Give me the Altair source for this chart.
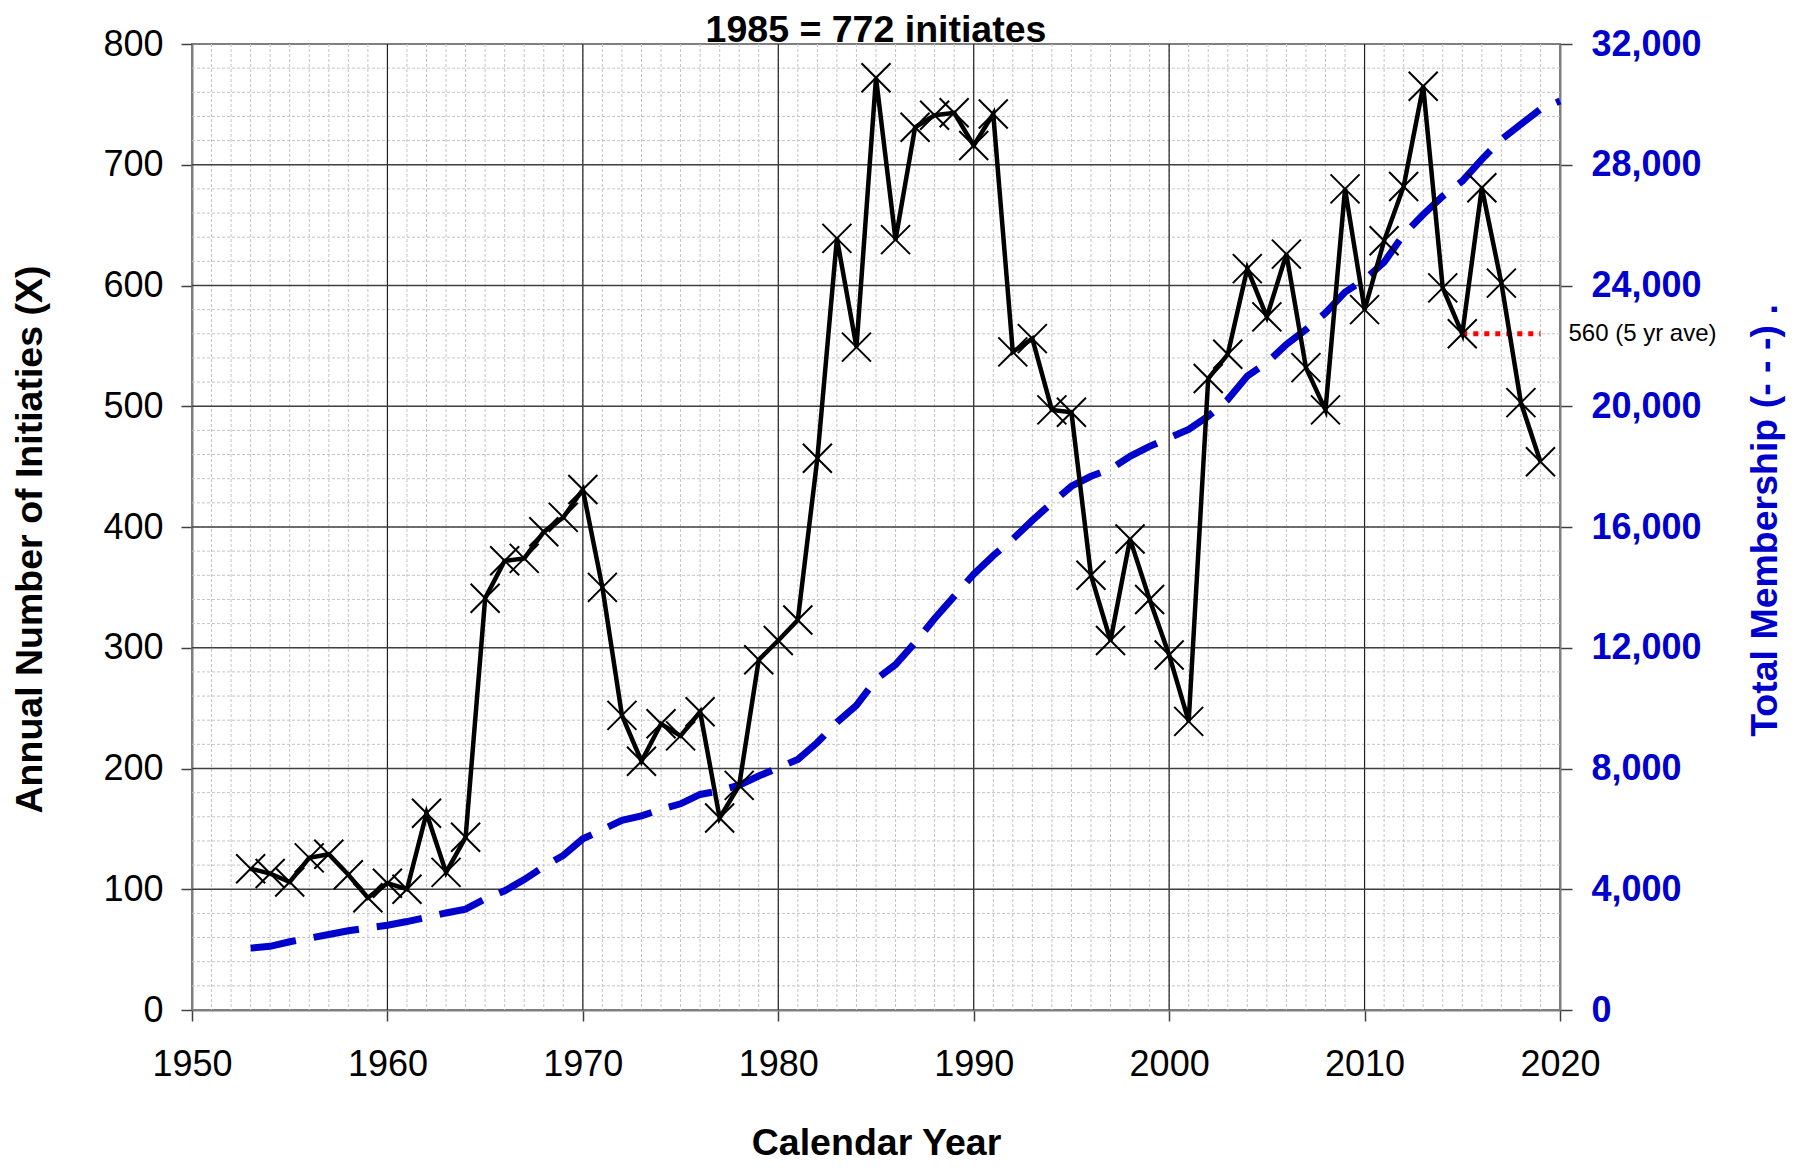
import altair as alt
import pandas as pd

# ---------------- data ----------------
init_years = list(range(1953, 2020))
initiates = [117, 113, 106, 126, 129, 112, 93, 105, 100, 163,
             114, 143, 341, 372, 374, 396, 408, 431, 350, 244,
             206, 237, 227, 247, 159, 186, 290, 306, 323, 457,
             639, 549, 772, 638, 731, 741, 743, 716, 742, 545,
             556, 497, 495, 360, 306, 390, 340, 294, 239, 523,
             543, 614, 574, 626, 532, 497, 680, 580, 637, 682,
             765, 598, 560, 681, 602, 503, 454]

mem_years = list(range(1953, 2021))
membership = [2050, 2110, 2260, 2380, 2500, 2625, 2720, 2810, 2930, 3070,
              3215, 3340, 3680, 3950, 4320, 4750, 5120, 5670, 5975, 6280,
              6430, 6650, 6830, 7140, 7260, 7450, 7750, 8025, 8300, 8860,
              9530, 10090, 10950, 11440, 12170, 12970, 13700, 14440, 15050, 15600,
              16220, 16800, 17350, 17680, 17920, 18340, 18670, 18950, 19230, 19670,
              20220, 21000, 21440, 22050, 22540, 23090, 23780, 24200, 24770, 25690,
              26350, 26960, 27460, 28180, 28840, 29340, 29840, 30110]

ave_start = [2015]
ave_end = [2019]
ave_value = [560]
ave_label = ["560 (5 yr ave)"]

x_ticks = [1950, 1960, 1970, 1980, 1990, 2000, 2010, 2020]
y_ticks = [0, 100, 200, 300, 400, 500, 600, 700, 800]
m_ticks = [0, 4000, 8000, 12000, 16000, 20000, 24000, 28000, 32000]
minor_x = list(range(1951, 2020))
minor_y = list(range(20, 800, 20))
major_x = [1960, 1970, 1980, 1990, 2000, 2010]
major_y = [100, 200, 300, 400, 500, 600, 700]

title_text = ["1985 = 772 initiates"]
x_title = "Calendar Year"
y_title = "Annual Number of Initiaties (X)"
m_title = "Total Membership (- - -) ."

# ---------------- tables ----------------
init_df = pd.DataFrame({"year": init_years, "initiates": initiates})
mem_df = pd.DataFrame({"year": mem_years, "members": membership})
ave_df = pd.DataFrame({"start": ave_start, "end": ave_end, "value": ave_value, "label": ave_label})
title_df = pd.DataFrame({"t": title_text})
minor_x_df = pd.DataFrame({"v": minor_x})
minor_y_df = pd.DataFrame({"v": minor_y})
major_x_df = pd.DataFrame({"v": major_x})
major_y_df = pd.DataFrame({"v": major_y})

FONT = "Liberation Sans"
BLUE = "#0000CC"
W, H = 1368, 966
LBL = 36
TTL = 37.5

xscale = alt.Scale(domain=[1950, 2020], nice=False, zero=False)
yscale = alt.Scale(domain=[0, 800], nice=False)
mscale = alt.Scale(domain=[0, 32000], nice=False)

# ---------------- grid ----------------
g_minor_x = alt.Chart(minor_x_df).mark_rule(color="#c4c4c4", strokeWidth=1, strokeDash=[3, 2]).encode(
    x=alt.X("v:Q", scale=xscale, axis=None))
g_minor_y = alt.Chart(minor_y_df).mark_rule(color="#c4c4c4", strokeWidth=1, strokeDash=[3, 2]).encode(
    y=alt.Y("v:Q", scale=yscale, axis=None))
g_major_x = alt.Chart(major_x_df).mark_rule(color="#202020", strokeWidth=1.2).encode(
    x=alt.X("v:Q", scale=xscale, axis=None))
g_major_y = alt.Chart(major_y_df).mark_rule(color="#404040", strokeWidth=1.5).encode(
    y=alt.Y("v:Q", scale=yscale, axis=None))

# ---------------- series ----------------
mem_line = alt.Chart(mem_df).mark_line(color=BLUE, strokeWidth=7, strokeDash=[46, 18], strokeCap="butt").encode(
    x=alt.X("year:Q", scale=xscale, axis=None),
    y=alt.Y("members:Q", scale=mscale,
            axis=alt.Axis(orient="right", values=m_ticks, format=",.0f", grid=False,
                          labelFont=FONT, labelFontSize=LBL, labelFontWeight="bold", labelColor=BLUE,
                          labelPadding=19, labelAlign="left", labelBaseline="middle",
                          tickSize=12, tickColor="#404040", tickWidth=1.5,
                          domainColor="#7f7f7f", domainWidth=2,
                          title=m_title, titleFont=FONT, titleFontSize=TTL, titleFontWeight="bold",
                          titleColor=BLUE, titleAngle=270, titleX=205, titleY=476,
                          titleAlign="center", titleBaseline="middle")))

ave_rule = alt.Chart(ave_df).mark_rule(color="#FF0000", strokeWidth=5, strokeDash=[5, 6], strokeCap="butt").encode(
    x=alt.X("start:Q", scale=xscale, axis=None),
    x2="end:Q",
    y=alt.Y("value:Q", scale=yscale, axis=None))

ave_text = alt.Chart(ave_df).mark_text(align="left", baseline="middle", dx=28, font=FONT, fontSize=24,
                                       color="black").encode(
    x=alt.X("end:Q", scale=xscale, axis=None),
    y=alt.Y("value:Q", scale=yscale, axis=None),
    text="label:N")

init_line = alt.Chart(init_df).mark_line(color="black", strokeWidth=4.5).encode(
    x=alt.X("year:Q", scale=xscale,
            axis=alt.Axis(values=x_ticks, format="d", grid=False, labelFlush=False, labelOverlap=False,
                          labelFont=FONT, labelFontSize=LBL, labelColor="black", labelPadding=26,
                          tickSize=11, tickColor="#404040", tickWidth=1.5,
                          domainColor="#7f7f7f", domainWidth=2,
                          title=x_title, titleFont=FONT, titleFontSize=TTL, titleFontWeight="bold",
                          titleColor="black", titleX=W / 2, titleY=133,
                          titleAlign="center", titleBaseline="middle")),
    y=alt.Y("initiates:Q", scale=yscale,
            axis=alt.Axis(orient="left", values=y_ticks, format="d", grid=False,
                          labelFont=FONT, labelFontSize=LBL, labelColor="black",
                          labelPadding=18, labelBaseline="middle",
                          tickSize=11, tickColor="#404040", tickWidth=1.5,
                          domainColor="#7f7f7f", domainWidth=2,
                          title=y_title, titleFont=FONT, titleFontSize=TTL, titleFontWeight="bold",
                          titleColor="black", titleAngle=270, titleX=-162, titleY=495,
                          titleAlign="center", titleBaseline="middle")))

init_pts = alt.Chart(init_df).mark_point(shape="M-1,-1L1,1M-1,1L1,-1", filled=False, size=841,
                                         strokeWidth=2, color="black", opacity=1).encode(
    x=alt.X("year:Q", scale=xscale, axis=None),
    y=alt.Y("initiates:Q", scale=yscale, axis=None))

# chart title, drawn as a text mark centred over the plot area
title_mark = alt.Chart(title_df).mark_text(align="center", baseline="alphabetic", font=FONT,
                                           fontSize=TTL, fontWeight="bold", color="black").encode(
    x=alt.value(W / 2), y=alt.value(-2), text="t:N")

chart = alt.layer(
    g_minor_x, g_minor_y, g_major_x, g_major_y,
    mem_line, ave_rule, init_line, init_pts, ave_text, title_mark
).resolve_scale(y="independent").resolve_axis(x="independent", y="independent").properties(
    width=W, height=H,
    padding={"left": 184, "top": 36, "right": 235, "bottom": 150},
    autosize=alt.AutoSizeParams(type="none"),
).configure_view(stroke="#7f7f7f", strokeWidth=2)

chart.save("out.html", embed_options={"renderer": "svg", "actions": False})
